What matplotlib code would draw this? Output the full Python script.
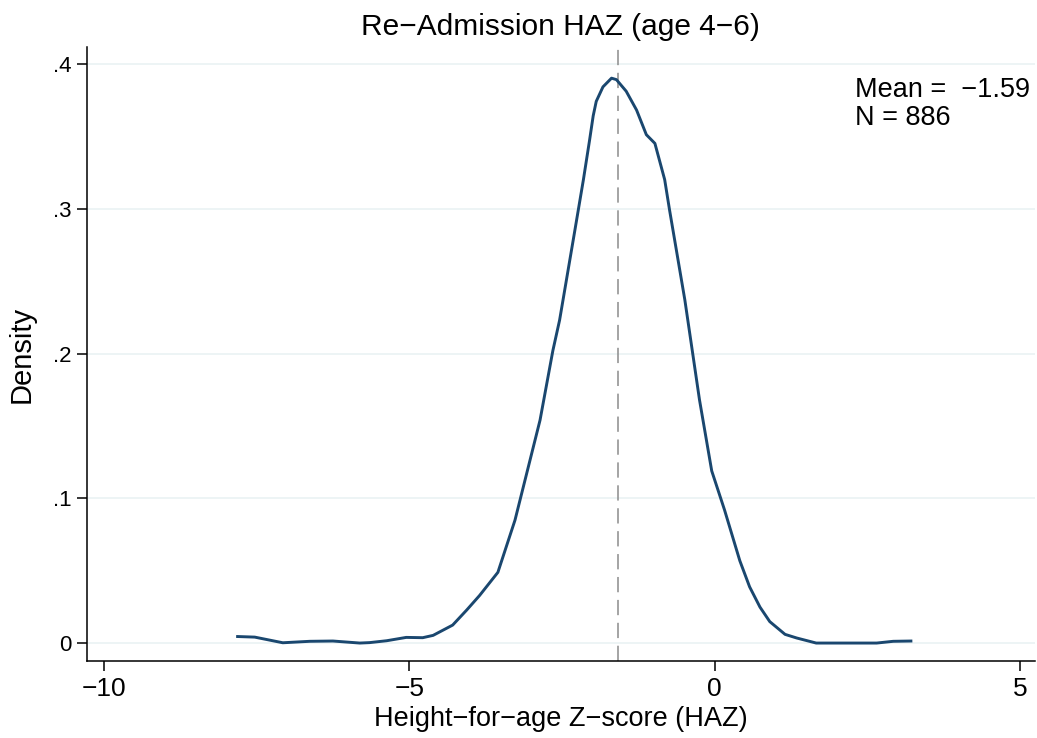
import matplotlib
matplotlib.use("Agg")
import matplotlib.pyplot as plt

plt.rcParams['font.family'] = ['Liberation Sans', 'DejaVu Sans']
plt.rcParams['axes.unicode_minus'] = True

# kernel density of HAZ
haz = [-7.81, -7.53, -7.07, -6.63, -6.25, -5.81, -5.65, -5.37, -5.05, -4.78,
       -4.61, -4.29, -4.06, -3.85, -3.55, -3.27, -2.86, -2.65, -2.54, -2.29,
       -2.15, -2.05, -1.99, -1.94, -1.83, -1.69, -1.61, -1.45, -1.28, -1.12, -0.98,
       -0.82, -0.74, -0.49, -0.25, -0.05, 0.16, 0.41, 0.57, 0.74, 0.90,
       1.15, 1.34, 1.66, 2.65, 2.92, 3.21]
density = [0.0047, 0.0043, 0.0004, 0.0014, 0.0016, 0.0002, 0.0005, 0.0018, 0.0041, 0.0039,
           0.0055, 0.0126, 0.023, 0.033, 0.049, 0.085, 0.154, 0.202, 0.223, 0.285,
           0.320, 0.347, 0.364, 0.374, 0.384, 0.390, 0.389, 0.381, 0.368, 0.351, 0.345,
           0.320, 0.299, 0.237, 0.168, 0.119, 0.092, 0.057, 0.039, 0.025, 0.015,
           0.0062, 0.0037, 0.0002, 0.0002, 0.0014, 0.0016]

mean_haz = -1.59
n_obs = 886

x_ticks = [-10, -5, 0, 5]
x_ticklabels = ['\u221210', '\u22125', '0', '5']
y_ticks = [0, 0.1, 0.2, 0.3, 0.4]
y_ticklabels = ['0', '.1', '.2', '.3', '.4']

fig = plt.figure(figsize=(10.37, 7.38), dpi=100)
ax = fig.add_axes([0.0836, 0.1047, 0.9144, 0.8312])

for yv in y_ticks:
    ax.axhline(yv, color='#eaf2f3', lw=1.2, zorder=0)

ax.plot(haz, density, color='#1a476f', lw=2.1, solid_joinstyle='round', zorder=3)
ax.axvline(mean_haz, color='#8c8c8c', lw=1.1, dashes=(10, 5), zorder=2)

ax.set_xlim(-10.28, 5.24)
ax.set_ylim(-0.012, 0.4113)

ax.set_xticks(x_ticks)
ax.set_xticklabels(x_ticklabels)
ax.set_yticks(y_ticks)
ax.set_yticklabels(y_ticklabels)
ax.tick_params(axis='x', labelsize=19, length=7, width=1.1, pad=5)
ax.tick_params(axis='y', labelsize=16, length=7, width=1.1, pad=4)

for s in ['top', 'right']:
    ax.spines[s].set_visible(False)
for s in ['left', 'bottom']:
    ax.spines[s].set_linewidth(1.1)

ax.set_xlabel('Height\u2212for\u2212age Z\u2212score (HAZ)', fontsize=19.5, labelpad=3)
ax.set_ylabel('Density', fontsize=21, labelpad=12)
ax.set_title('Re\u2212Admission HAZ (age 4\u22126)', fontsize=21.5, pad=9)

ax.text(2.29, 0.3772, 'Mean =  \u2212%.2f' % abs(mean_haz),
        fontsize=19.5, va='baseline', ha='left')
ax.text(2.29, 0.3576, 'N = %d' % n_obs, fontsize=19.5, va='baseline', ha='left')

fig.savefig('out.png', dpi=100)
